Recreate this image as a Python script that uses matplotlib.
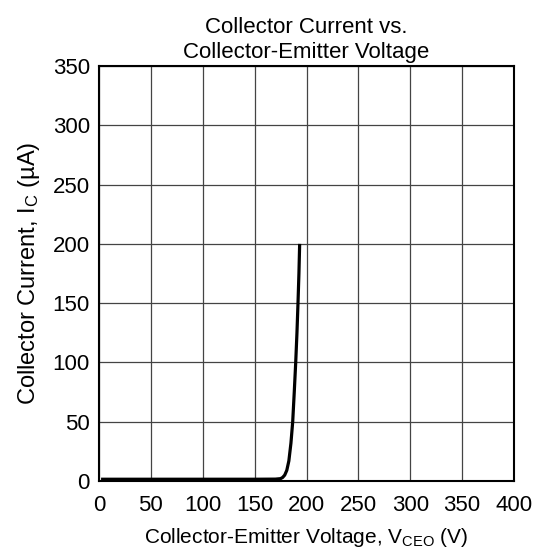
import numpy as np
import matplotlib
matplotlib.use('Agg')
import matplotlib.pyplot as plt

plt.rcParams['font.family'] = ['Liberation Sans', 'DejaVu Sans']
plt.rcParams['mathtext.fontset'] = 'custom'
plt.rcParams['mathtext.rm'] = 'Liberation Sans'

## curve
vce = [2, 50, 100, 150, 170, 175, 177, 179, 181, 183, 185, 186.7, 188.2, 189.6, 190.8, 191.8, 192.7, 193.4]
ic = [1.5, 1.5, 1.5, 1.5, 1.6, 2.0, 3.0, 5.0, 9.0, 17, 32, 50, 75, 100, 125, 150, 175, 200]

x_ticks = [0, 50, 100, 150, 200, 250, 300, 350, 400]
y_ticks = [0, 50, 100, 150, 200, 250, 300, 350]

fig = plt.figure(figsize=(5.4, 5.52), dpi=100)
ax = fig.add_axes([0.1833, 0.1286, 0.7686, 0.7518])

ax.plot(vce, ic, color='black', lw=2.3, solid_capstyle='butt', zorder=3)

ax.set_xlim(0, 400)
ax.set_ylim(0, 350)
ax.set_xticks(x_ticks)
ax.set_yticks(y_ticks)
ax.grid(True, color='#444444', lw=0.9)
ax.tick_params(length=0, labelsize=16)
ax.tick_params(axis='x', pad=10)
ax.tick_params(axis='y', pad=6.5)
for s in ax.spines.values():
    s.set_linewidth(1.5)
    s.set_color('black')

ax.set_title("Collector Current vs.\nCollector-Emitter Voltage", fontsize=16, pad=5.5, linespacing=1.25)
ax.set_xlabel("Collector-Emitter Voltage, $\\mathregular{V_{CEO}}$ (V)", fontsize=15, labelpad=7)
ax.set_ylabel("Collector Current, $\\mathregular{I_C}$ (\u00b5A)", fontsize=17, labelpad=8)

fig.savefig('out.png', dpi=100)
